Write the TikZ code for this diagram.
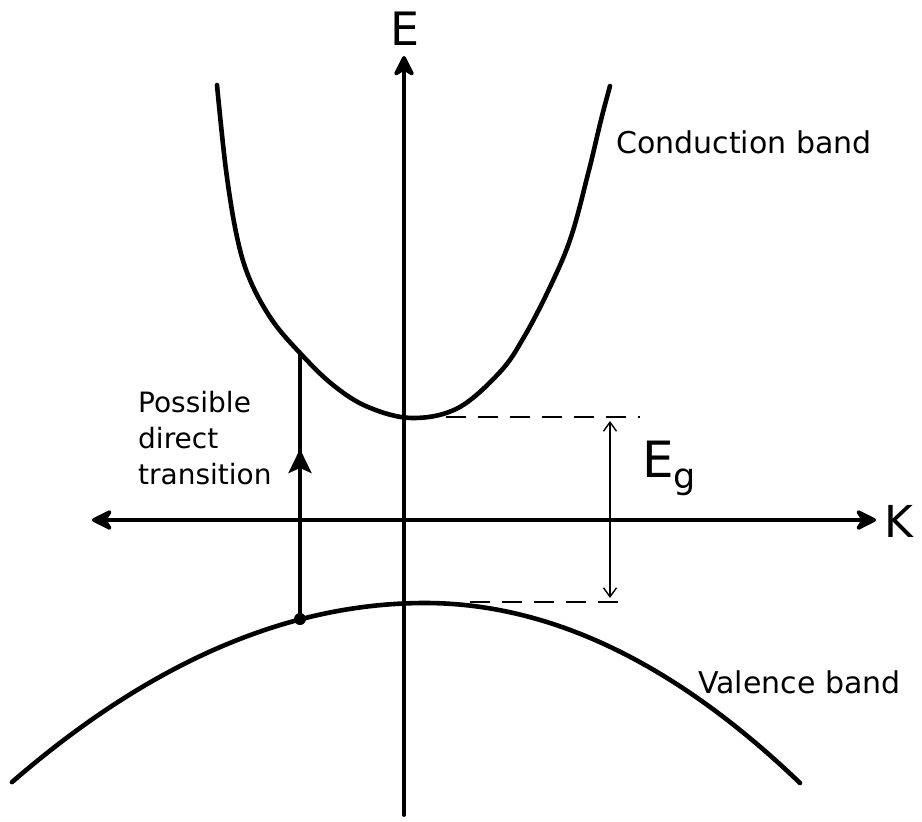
\documentclass[tikz,border=0pt]{standalone}
\usepackage{fontspec}
\setmainfont{DejaVu Sans}
\usetikzlibrary{arrows.meta}

\begin{document}
\begin{tikzpicture}[x=1pt,y=-1pt,
    band/.style={line width=4.6pt, line cap=round},
    axis/.style={line width=3.8pt, line cap=round},
    guide/.style={line width=1.4pt},
    axistip/.tip={Stealth[length=25pt,width=25pt,inset=8pt,round]},
    gaptip/.tip={Straight Barb[length=9pt,width=13pt]},
    lab/.style={inner sep=0pt, font=\fontsize{30}{36}\selectfont}]
  \useasboundingbox (0,0) rectangle (922,822);

  % axes
  \coordinate (Ebot)   at (404,815);
  \coordinate (Etop)   at (404,56);
  \coordinate (Kleft)  at (92,520);
  \coordinate (Kright) at (876,520);
  \draw[axis, -{axistip}] (Ebot) -- (Etop);
  \draw[axis, {axistip}-{axistip}] (Kleft) -- (Kright);

  % conduction band
  \draw[band] plot[smooth, tension=0.6] coordinates {(217,85) (226,170) (237,237)
      (250,280) (272,320) (300,353) (333,385) (368,407) (412,418) (458,408)
      (500,372) (524,337) (550,287) (571,237) (589,170) (601,120) (610,86)};

  % valence band
  \draw[band] plot[domain=12:425, samples=60] (\x,{603+10.5*((\x-425)/100)^2})
      -- plot[domain=425:800, samples=60] (\x,{603+12.8*((\x-425)/100)^2});

  % direct transition
  \coordinate (vbtop) at (300,619);
  \coordinate (cbpt)  at (300,353);
  \coordinate (trmid) at (300,449);
  \fill (vbtop) circle (6pt);
  \draw[axis] (vbtop) -- (cbpt);
  \draw[axis, -{Stealth[length=24pt,width=23pt,inset=5pt]}] (vbtop) -- (trmid);

  % energy gap
  \coordinate (cbmin) at (446,417);
  \coordinate (cbend) at (640,417);
  \coordinate (vbmax) at (470,602);
  \coordinate (vbend) at (627,602);
  \draw[guide, dash pattern=on 20pt off 12pt] (cbmin) -- (cbend);
  \draw[guide, dash pattern=on 20pt off 12pt] (vbmax) -- (vbend);
  \coordinate (gtop) at (610,421);
  \coordinate (gbot) at (610,598);
  \draw[guide, {gaptip}-{gaptip}] (gtop) -- (gbot);

  % labels
  \node[lab, font=\fontsize{46}{46}\selectfont, anchor=base] (Elab) at (405,45) {E};
  \node[lab, font=\fontsize{44}{44}\selectfont, anchor=base west] (Klab) at (884,537) {K};
  \node[lab, font=\fontsize{50}{50}\selectfont, anchor=base west] (Eglab) at (642,477)
      {E\textsubscript{g}};
  \node[lab, anchor=base west] (cblab) at (616,153) {Conduction band};
  \node[lab, anchor=base west] (vblab) at (698,693) {Valence band};
  \node[lab, font=\fontsize{28}{36}\selectfont, anchor=north west, align=left] (trlab)
      at (138,391) {Possible\\direct\\transition};
\end{tikzpicture}
\end{document}
